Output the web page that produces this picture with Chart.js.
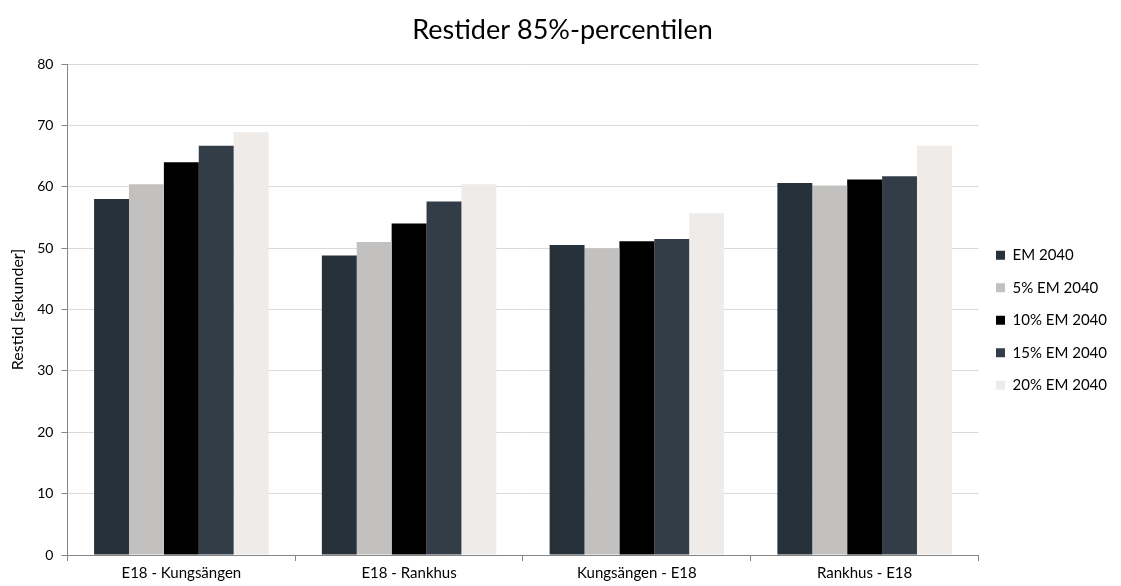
<!DOCTYPE html>
<html>
<head>
<meta charset="utf-8">
<script src="https://cdn.jsdelivr.net/npm/chart.js@4"></script>
<style>
  html, body { margin: 0; padding: 0; background: #fff; }
  #wrap { width: 1121px; height: 586px; }
</style>
</head>
<body>
<div id="wrap"><canvas id="graficoRestid"></canvas></div>
<script>
const strackor = ['E18 - Kungsängen', 'E18 - Rankhus', 'Kungsängen - E18', 'Rankhus - E18'];
const em2040 = [58.0, 48.8, 50.5, 60.6];
const em2040_5 = [60.4, 51.0, 50.0, 60.2];
const em2040_10 = [64.0, 54.0, 51.1, 61.2];
const em2040_15 = [66.7, 57.6, 51.5, 61.7];
const em2040_20 = [68.9, 60.4, 55.7, 66.7];
const yTicks = [0, 10, 20, 30, 40, 50, 60, 70, 80];

const fontFamily = 'Lato, "Open Sans", sans-serif';

const ctx = document.getElementById('graficoRestid').getContext('2d');
const grafico = new Chart(ctx, {
    type: 'bar',
    data: {
        labels: strackor,
        datasets: [
            { label: 'EM 2040', data: em2040, backgroundColor: '#27313a' },
            { label: '5% EM 2040', data: em2040_5, backgroundColor: '#c2c1bf' },
            { label: '10% EM 2040', data: em2040_10, backgroundColor: '#000000' },
            { label: '15% EM 2040', data: em2040_15, backgroundColor: '#333d48' },
            { label: '20% EM 2040', data: em2040_20, backgroundColor: '#eeebe8' }
        ]
    },
    options: {
        responsive: true,
        maintainAspectRatio: false,
        animation: false,
        datasets: {
            bar: {
                barPercentage: 1.0,
                categoryPercentage: 0.766,
                borderWidth: 0
            }
        },
        layout: {
            padding: { left: 8, right: 4, top: 4, bottom: 0 }
        },
        scales: {
            x: {
                grid: {
                    display: true,
                    drawOnChartArea: false,
                    offset: true,
                    tickLength: 6,
                    color: '#868686'
                },
                border: { color: '#868686' },
                ticks: {
                    color: '#000',
                    font: { family: fontFamily, size: 15 },
                    padding: 3.5
                }
            },
            y: {
                min: 0,
                max: 80,
                afterBuildTicks: axis => {
                    axis.ticks = yTicks.map(v => ({ value: v }));
                },
                grid: {
                    color: '#d9d9d9',
                    tickLength: 6,
                    tickColor: '#868686'
                },
                border: { color: '#868686' },
                ticks: {
                    color: '#000',
                    font: { family: fontFamily, size: 14 },
                    padding: 8
                },
                title: {
                    display: true,
                    text: 'Restid [sekunder]',
                    color: '#000',
                    font: { family: fontFamily, size: 16 },
                    padding: { top: 0, bottom: 2 }
                }
            }
        },
        plugins: {
            title: {
                display: true,
                text: 'Restider 85%-percentilen',
                color: '#000',
                font: { family: fontFamily, size: 27, weight: 'normal' },
                padding: { top: 10, bottom: 17.6 }
            },
            legend: {
                position: 'right',
                title: {
                    display: true,
                    text: '',
                    font: { family: fontFamily, size: 12 },
                    padding: { top: 0, bottom: 36 }
                },
                labels: {
                    color: '#000',
                    boxWidth: 9,
                    boxHeight: 9,
                    padding: 17.5,
                    font: { family: fontFamily, size: 15 }
                }
            },
            tooltip: { enabled: false }
        }
    }
});
</script>
</body>
</html>
